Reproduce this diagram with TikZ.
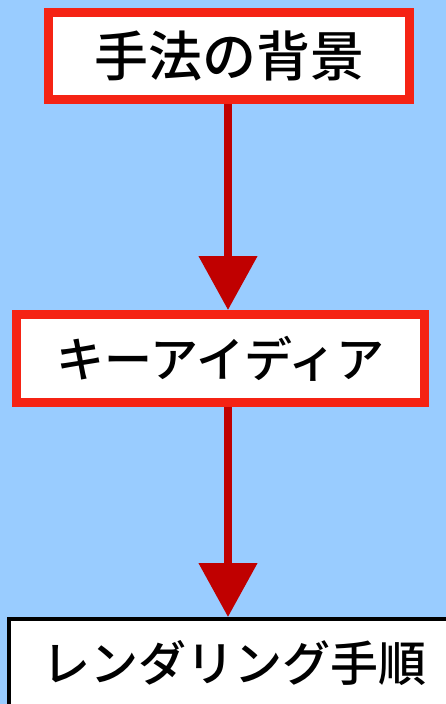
\documentclass[tikz,border=0pt]{standalone}
\usepackage{fontspec}
\newfontfamily\jp{Noto Sans CJK JP}[BoldFont={* Medium}]
\usetikzlibrary{arrows.meta}
\definecolor{bg}{HTML}{99CCFF}
\definecolor{boxred}{HTML}{F52314}
\definecolor{arrowred}{HTML}{C00000}
\tikzset{
  redbox/.style={draw=boxred, line width=9pt, fill=white, inner sep=0pt, font=\jp\bfseries},
  blackbox/.style={draw=black, line width=4pt, fill=white, inner sep=0pt, font=\jp\bfseries},
  flow/.style={draw=arrowred, line width=8pt, -{Triangle[length=54pt,width=57pt]}}
}
\begin{document}
\begin{tikzpicture}[x=1pt,y=-1pt]
\useasboundingbox (0,0) rectangle (446,704);
\fill[bg] (0,0) rectangle (446,704);
\clip (0,0) rectangle (446,704);
\node[redbox, minimum width=361pt, minimum height=87pt] (a) at (229,56) {\fontsize{54}{60}\selectfont\raisebox{-4pt}{手法の背景}};
\node[redbox, minimum width=408pt, minimum height=88pt] (b) at (220.5,358.5) {\fontsize{48}{60}\selectfont\raisebox{-2pt}{キーアイディア}};
\node[blackbox, minimum width=450pt, minimum height=88pt] (c) at (234,663) {\fontsize{48}{60}\selectfont\raisebox{-2pt}{レンダリング手順}};
\coordinate (xl) at (228,0);
\draw[flow] (a.south -| xl) -- (b.north -| xl);
\draw[flow] (b.south -| xl) -- (c.north -| xl);
\end{tikzpicture}
\end{document}
